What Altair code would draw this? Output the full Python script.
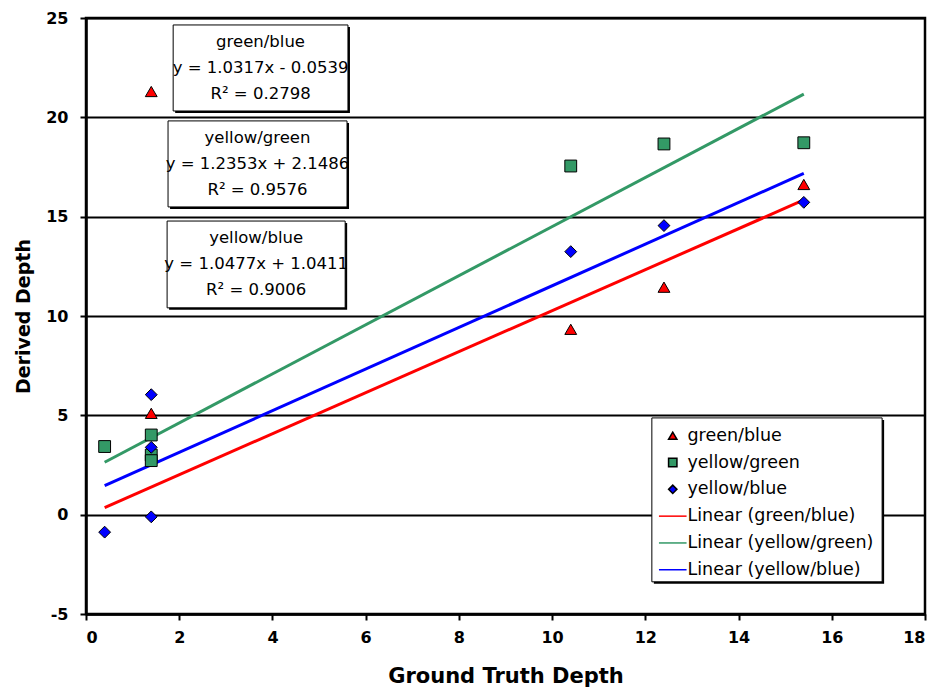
import altair as alt
import pandas as pd

# ---------------- data ----------------
SERIES = ["green/blue", "yellow/green", "yellow/blue"]
TRENDS = ["Linear (green/blue)", "Linear (yellow/green)", "Linear (yellow/blue)"]
LEGEND_ORDER = SERIES + TRENDS

gb_x = [1.4, 1.4, 10.4, 12.4, 15.4]
gb_y = [21.3, 5.1, 9.33, 11.45, 16.62]

yg_x = [0.4, 1.4, 1.4, 1.4, 10.4, 12.4, 15.4]
yg_y = [3.43, 4.01, 3.0, 2.72, 17.55, 18.66, 18.72]

yb_x = [0.4, 1.4, 1.4, 1.4, 10.4, 12.4, 15.4]
yb_y = [-0.88, 6.04, 3.39, -0.11, 13.24, 14.55, 15.72]

# linear trend lines (end points)
trend_x = [0.4, 15.4]
trend_gb = [0.36, 15.84]
trend_yg = [2.64, 21.17]
trend_yb = [1.46, 17.18]

ANNOT_TEXT = [
    "green/blue\ny = 1.0317x - 0.0539\nR² = 0.2798",
    "yellow/green\ny = 1.2353x + 2.1486\nR² = 0.9576",
    "yellow/blue\ny = 1.0477x + 1.0411\nR² = 0.9006",
]

X_TICKS = [0, 2, 4, 6, 8, 10, 12, 14, 16, 18]
Y_TICKS = [-5, 0, 5, 10, 15, 20, 25]

# ---------------- layout (annotation boxes, legend frame) ----------------
BOX_X1 = [1.87, 1.76, 1.74]
BOX_X2 = [5.62, 5.60, 5.56]
BOX_Y1 = [24.65, 19.82, 14.78]
BOX_Y2 = [20.32, 15.49, 10.41]
LEG_FRAME = {"x1": [12.14], "x2": [17.08], "y1": [4.87], "y2": [-3.38]}

RED, GREEN, BLUE = "#FF0000", "#339966", "#0000FF"
LINE_SYMBOL = "M-3.3,0H3.3"

points = pd.DataFrame({
    "x": gb_x + yg_x + yb_x,
    "y": gb_y + yg_y + yb_y,
    "series": [SERIES[0]] * len(gb_x) + [SERIES[1]] * len(yg_x) + [SERIES[2]] * len(yb_x),
})
trend = pd.DataFrame({
    "x": trend_x * 3,
    "y": trend_gb + trend_yg + trend_yb,
    "series": [TRENDS[0]] * 2 + [TRENDS[1]] * 2 + [TRENDS[2]] * 2,
})
boxes = pd.DataFrame({"x1": BOX_X1, "x2": BOX_X2, "y1": BOX_Y1, "y2": BOX_Y2, "text": ANNOT_TEXT})
boxes["xc"] = (boxes["x1"] + boxes["x2"]) / 2
boxes["yc"] = (boxes["y1"] + boxes["y2"]) / 2
frames = pd.concat([boxes[["x1", "x2", "y1", "y2"]], pd.DataFrame(LEG_FRAME)], ignore_index=True)

x_scale = alt.Scale(domain=[0, 18], nice=False, zero=False)
y_scale = alt.Scale(domain=[-5, 25], nice=False, zero=False)
x_axis = alt.Axis(values=X_TICKS, grid=False, title="Ground Truth Depth", labelPadding=9,
                  titleY=62, titleBaseline="middle", titleFontSize=21)
y_axis = alt.Axis(values=Y_TICKS, grid=True, gridColor="black", gridWidth=2,
                  title="Derived Depth", labelPadding=12, titleX=-63, titleBaseline="middle",
                  titleFontSize=19, labelExpr="replace(datum.label, '\u2212', '-')")

legend = alt.Legend(orient="none", legendX=578, legendY=409, title=None,
                    labelFont="DejaVu Sans", labelFontSize=17.5, labelColor="black",
                    symbolSize=70, symbolStrokeWidth=1.5, labelOffset=6, rowPadding=7.8,
                    padding=0, labelLimit=400)

fill_scale = alt.Scale(domain=LEGEND_ORDER, range=[RED, GREEN, BLUE, "white", "white", "white"])
stroke_scale = alt.Scale(domain=LEGEND_ORDER, range=["black", "black", "black", RED, GREEN, BLUE])
shape_scale = alt.Scale(domain=LEGEND_ORDER,
                        range=["triangle-up", "square", "diamond", LINE_SYMBOL, LINE_SYMBOL, LINE_SYMBOL])

shadow = alt.Chart(frames).mark_rect(fill="black", xOffset=2, x2Offset=2, yOffset=2, y2Offset=2).encode(
    x=alt.X("x1:Q", scale=x_scale, axis=x_axis), x2="x2:Q",
    y=alt.Y("y1:Q", scale=y_scale, axis=y_axis), y2="y2:Q",
)
frame = alt.Chart(frames).mark_rect(fill="white", stroke="black", strokeWidth=1).encode(
    x=alt.X("x1:Q", scale=x_scale, axis=x_axis), x2="x2:Q",
    y=alt.Y("y1:Q", scale=y_scale, axis=y_axis), y2="y2:Q",
)
lines = alt.Chart(trend).mark_line(strokeWidth=3).encode(
    x=alt.X("x:Q", scale=x_scale, axis=x_axis),
    y=alt.Y("y:Q", scale=y_scale, axis=y_axis),
    stroke=alt.Stroke("series:N", scale=stroke_scale, legend=legend),
    detail="series:N",
)
dots = alt.Chart(points).mark_point(filled=True, size=140, strokeWidth=1, opacity=1).encode(
    x=alt.X("x:Q", scale=x_scale, axis=x_axis),
    y=alt.Y("y:Q", scale=y_scale, axis=y_axis),
    fill=alt.Fill("series:N", scale=fill_scale, legend=legend),
    stroke=alt.Stroke("series:N", scale=stroke_scale, legend=legend),
    shape=alt.Shape("series:N", scale=shape_scale, legend=legend),
)
texts = alt.Chart(boxes).mark_text(font="DejaVu Sans", fontSize=16.5, lineBreak="\n", lineHeight=26,
                                   baseline="middle", align="center", color="black", dy=-26).encode(
    x=alt.X("xc:Q", scale=x_scale, axis=x_axis),
    y=alt.Y("yc:Q", scale=y_scale, axis=y_axis),
    text="text:N",
)

chart = alt.layer(shadow, frame, lines, dots, texts).properties(
    width=839, height=596, autosize="none",
    padding={"left": 78, "top": 10, "right": 5, "bottom": 76},
).configure_view(stroke="black", strokeWidth=2.5).configure_axis(
    domainColor="black", domainWidth=2.5, tickColor="black", tickWidth=2, tickSize=6,
    labelFont="DejaVu Sans", labelFontWeight="bold", labelFontSize=16, labelColor="black",
    titleFont="DejaVu Sans", titleFontWeight="bold", titleColor="black",
)

chart.save("out.html", embed_options={"renderer": "svg", "actions": False})
